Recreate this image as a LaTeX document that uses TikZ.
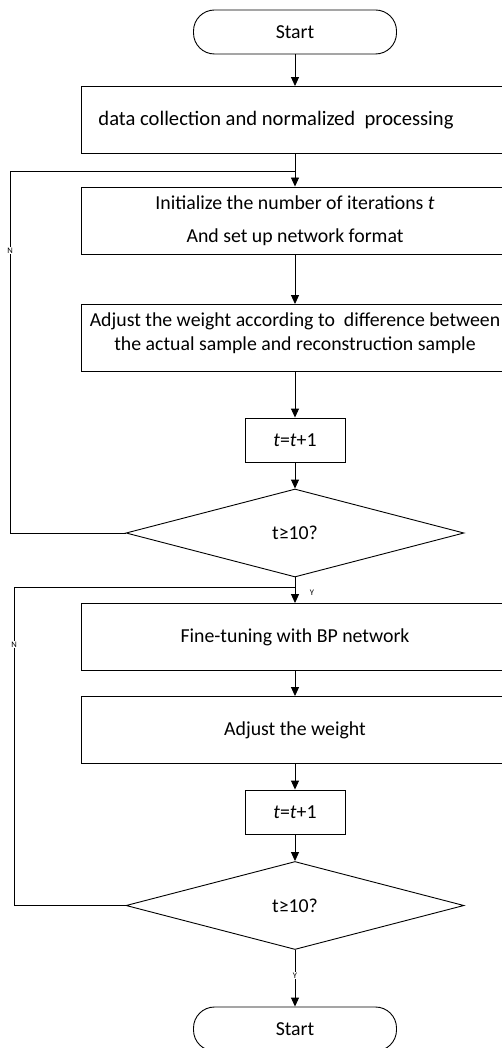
\documentclass[tikz,border=0pt]{standalone}
\usepackage{fontspec}
\setmainfont{Carlito}
\usetikzlibrary{arrows.meta,shapes.geometric}
\begin{document}
\begin{tikzpicture}[x=1pt,y=-1pt,
  every node/.style={font=\fontsize{19.8}{24}\selectfont},
  base/.style={draw, line width=0.9pt, align=center, inner sep=0pt},
  box/.style={base, minimum width=428pt, minimum height=67pt},
  small/.style={base, minimum width=100pt, minimum height=44pt},
  term/.style={base, minimum width=203pt, minimum height=44pt, rounded corners=21pt},
  dec/.style={base, diamond, minimum width=338pt, minimum height=88pt},
  arr/.style={line width=0.9pt, -{Triangle[length=9pt,width=8pt]}},
  ln/.style={line width=0.9pt},
  tag/.style={font=\fontsize{8.5}{9}\selectfont, inner sep=1pt}
]
\useasboundingbox (0,0) rectangle (502,1048);
\clip (0,0) rectangle (502,1048);

\node[term] (start) at (295,32) {Start};
\node[box, font=\fontsize{20.6}{25}\selectfont] (b1) at (295,120) {\hspace*{-38pt}data collection and normalized\ \ processing};
\node[box] (b2) at (295,220.5) {Initialize the number of iterations \textit{t}\\[9pt]And set up network format};
\node[box] (b3) at (295,338) {};
\node[align=center, inner sep=0pt] (b3t) at (295,333) {Adjust the weight according to\ \ difference between\\the actual sample and reconstruction sample};
\node[small] (i1) at (295,440) {\textit{t}=\textit{t}+1};
\node[dec] (d1) at (295,533) {t≥10?};
\node[box] (b4) at (295,637) {Fine-tuning with BP network};
\node[box] (b5) at (295,730) {Adjust the weight};
\node[small] (i2) at (295,812) {\textit{t}=\textit{t}+1};
\node[dec] (d2) at (295,905.5) {t≥10?};
\node[term] (stop) at (295,1029) {Start};

\coordinate (j1) at (295,171);
\coordinate (j2) at (295,587);

\draw[arr] (start) -- (b1);
\draw[arr] (b1) -- (b2);
\draw[arr] (b2) -- (b3);
\draw[arr] (b3) -- (i1);
\draw[arr] (i1) -- (d1);
\draw[arr] (d1) -- (b4);
\node[tag] (y1) at (312,593) {Y};
\draw[arr] (b4) -- (b5);
\draw[arr] (b5) -- (i2);
\draw[arr] (i2) -- (d2);
\draw[arr] (d2) -- node[tag, fill=white, pos=0.45] (y2) {Y} (stop);

\draw[ln] (d1.west) -- (10,533) |- node[tag, fill=white, pos=0.39] (n1) {N} (j1);
\draw[ln] (d2.west) -- (14,905.5) |- node[tag, fill=white, pos=0.41] (n2) {N} (j2);
\end{tikzpicture}
\end{document}
